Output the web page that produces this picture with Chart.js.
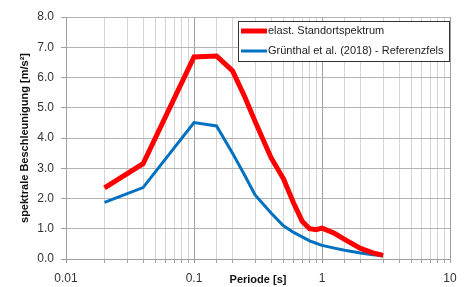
<!DOCTYPE html>
<html>
<head>
<meta charset="utf-8">
<script src="https://cdn.jsdelivr.net/npm/chart.js@4"></script>
<style>
  html, body { margin: 0; padding: 0; background: #fff; }
  #wrap { width: 466px; height: 287px; }
</style>
</head>
<body>
<div id="wrap"><canvas id="chart" width="466" height="287"></canvas></div>
<script>
// periods in s
const periods = [0.02, 0.04, 0.1, 0.15, 0.2, 0.25, 0.3, 0.4, 0.5, 0.6, 0.7, 0.8, 0.9, 1, 1.25, 1.5, 2, 2.5, 3];
// spectral acceleration in m/s²
const standortValues = [2.35, 3.15, 6.68, 6.71, 6.22, 5.35, 4.55, 3.35, 2.65, 1.85, 1.25, 1.0, 0.97, 1.02, 0.85, 0.65, 0.35, 0.2, 0.12];
const referenzValues = [1.87, 2.36, 4.51, 4.40, 3.50, 2.75, 2.12, 1.52, 1.10, 0.88, 0.73, 0.60, 0.52, 0.45, 0.36, 0.29, 0.20, 0.14, 0.11];
const seriesNames = ['elast. Standortspektrum', 'Grünthal et al. (2018) - Referenzfels'];
const xTickLabels = [0.01, 0.1, 1, 10];

const FONT = 'Liberation Sans';

function toPoints(vals) {
    return periods.map((p, i) => ({ x: p, y: vals[i] }));
}

// legend box drawn inside the plot, top right
const boxLegend = {
    id: 'boxLegend',
    afterDraw(chart) {
        const ctx = chart.ctx;
        const x0 = 238, y0 = 21, w = 211, h = 40;
        ctx.save();
        ctx.fillStyle = '#fff';
        ctx.fillRect(x0, y0, w, h);
        ctx.strokeStyle = '#333';
        ctx.lineWidth = 1;
        ctx.strokeRect(x0 + 0.5, y0 + 0.5, w, h);
        ctx.font = '11px ' + FONT;
        ctx.textBaseline = 'middle';
        chart.data.datasets.forEach((ds, i) => {
            const yy = y0 + 10 + i * 20;
            ctx.strokeStyle = ds.borderColor;
            ctx.lineWidth = ds.borderWidth;
            ctx.beginPath();
            ctx.moveTo(x0 + 3, yy);
            ctx.lineTo(x0 + 29, yy);
            ctx.stroke();
            ctx.fillStyle = '#222';
            ctx.fillText(ds.label, x0 + 30, yy);
        });
        ctx.restore();
    }
};

const chart = new Chart(document.getElementById('chart'), {
    type: 'line',
    data: {
        datasets: [
            {
                label: seriesNames[0],
                data: toPoints(standortValues),
                borderColor: '#FF0000',
                borderWidth: 5,
                pointRadius: 0,
                tension: 0
            },
            {
                label: seriesNames[1],
                data: toPoints(referenzValues),
                borderColor: '#0070C0',
                borderWidth: 3,
                pointRadius: 0,
                tension: 0
            }
        ]
    },
    options: {
        responsive: false,
        animation: false,
        layout: { padding: { top: 17, right: 16, left: 18, bottom: 0 } },
        plugins: {
            legend: { display: false },
            tooltip: { enabled: false }
        },
        scales: {
            x: {
                type: 'logarithmic',
                min: 0.01,
                max: 10,
                afterFit(scale) { scale.height = 28; },
                border: { color: '#a0a0a0' },
                grid: {
                    color: c => xTickLabels.includes(+c.tick.value.toPrecision(3)) ? '#a0a0a0' : '#d4d4d4',
                    tickLength: 4,
                    tickColor: '#a0a0a0'
                },
                ticks: {
                    autoSkip: false,
                    maxRotation: 0,
                    padding: 8,
                    color: '#333',
                    font: { family: FONT, size: 12 },
                    callback: v => xTickLabels.includes(+(+v).toPrecision(3)) ? String(+(+v).toPrecision(3)) : ''
                },
                title: {
                    display: true,
                    text: 'Periode [s]',
                    color: '#111',
                    font: { family: FONT, size: 11, weight: 'bold' },
                    padding: { top: -10, bottom: 0 }
                }
            },
            y: {
                min: 0,
                max: 8,
                afterFit(scale) { scale.width = 48; },
                border: { color: '#a0a0a0' },
                grid: { color: '#b4b4b4', tickLength: 5, tickColor: '#a0a0a0' },
                ticks: {
                    stepSize: 1,
                    padding: 7,
                    color: '#333',
                    font: { family: FONT, size: 12 },
                    callback: v => v.toFixed(1)
                },
                title: {
                    display: true,
                    text: 'spektrale Beschleunigung [m/s²]',
                    color: '#111',
                    font: { family: FONT, size: 11, weight: 'bold' },
                    padding: { top: 0, bottom: 2 }
                }
            }
        }
    },
    plugins: [boxLegend]
});
</script>
</body>
</html>
